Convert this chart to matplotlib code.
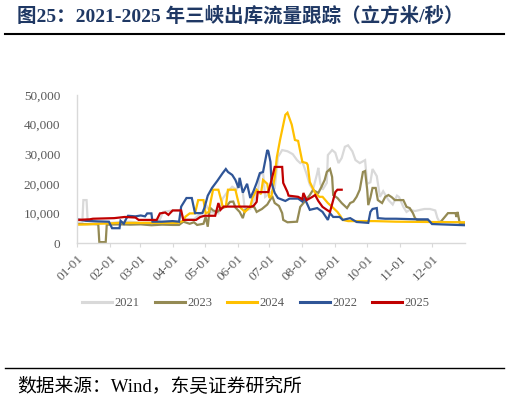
import matplotlib
matplotlib.use("Agg")
import matplotlib.pyplot as plt
from matplotlib.lines import Line2D

# ---- data (day of year, flow m3/s) ----
month_ticks = [0, 31, 59, 90, 120, 151, 181, 212, 243, 273, 304, 334]
month_labels = ["01-01", "02-01", "03-01", "04-01", "05-01", "06-01",
                "07-01", "08-01", "09-01", "10-01", "11-01", "12-01"]

days_2021 = [0, 5, 6, 9, 10, 20, 30, 40, 50, 60, 70, 78, 81, 90, 97, 100, 110, 118, 122, 125, 133, 137,
             142, 146, 150, 153, 156, 158, 163, 165, 167, 170, 172, 175, 177, 182, 186, 189, 193, 198,
             203, 207, 210, 212, 216, 219, 222, 226, 227, 229, 231, 235, 236, 240, 243, 246, 249, 252,
             255, 259, 262, 266, 271, 273, 276, 278, 282, 285, 288, 293, 297, 301, 303, 307, 310, 313,
             318, 323, 327, 332, 337, 339, 341, 350, 365]
vals_2021 = [7000, 7000, 14500, 14500, 7500, 7000, 6800, 7000, 7200, 6800, 7000, 8000, 10500, 11000, 11000,
             8000, 8000, 10500, 12500, 10500, 10000, 15000, 17500, 19000, 18000, 22000, 17000, 11000, 11500,
             13500, 15000, 17000, 23000, 24000, 15600, 17000, 18500, 29000, 31400, 31000, 30000, 28000,
             27000, 27500, 23300, 19700, 18000, 23600, 25400, 20000, 18000, 20300, 29700, 31400, 30500,
             27000, 28700, 32500, 33000, 31000, 28000, 27000, 28000, 20000, 20500, 25000, 22600, 15600,
             17500, 14500, 13000, 16000, 15500, 12200, 10500, 11200, 10800, 11200, 11500, 11500, 11000,
             8500, 7200, 7000, 7000]

days_2023 = [0, 15, 20, 21, 27, 28, 40, 50, 60, 70, 80, 90, 96, 100, 106, 110, 113, 119, 121, 123, 125,
             128, 132, 136, 140, 144, 147, 149, 153, 156, 158, 163, 167, 169, 174, 179, 182, 184, 186,
             190, 193, 194, 198, 207, 210, 213, 219, 222, 227, 230, 233, 235, 238, 240, 241, 245, 249,
             254, 257, 260, 263, 266, 269, 271, 273, 274, 276, 278, 281, 283, 287, 290, 293, 296, 299,
             302, 307, 310, 313, 316, 318, 320, 330, 334, 342, 346, 349, 356, 357, 358, 360, 365]
vals_2023 = [6400, 6400, 6300, 300, 300, 6200, 6300, 6200, 6300, 6000, 6200, 6100, 6100, 7200, 6500,
             7000, 6100, 6500, 8800, 5500, 12000, 11000, 10500, 11800, 12200, 13900, 14000, 12000,
             10500, 8400, 11000, 12500, 12000, 10500, 11500, 13000, 14800, 15500, 13500, 12500, 10100,
             7800, 7000, 7200, 12200, 13500, 16200, 17900, 16900, 19000, 21300, 24000, 25000, 22300,
             16200, 15200, 13500, 11800, 13500, 14000, 15600, 18000, 24000, 24300, 18000, 12800, 15300,
             18600, 18600, 14500, 13500, 15600, 16200, 15500, 14500, 14500, 14500, 12200, 11800, 10100,
             8400, 7800, 7600, 6800, 7100, 8800, 10100, 10100, 8800, 10500, 6800, 6600]

days_2024 = [0, 10, 20, 30, 40, 60, 80, 95, 100, 102, 106, 111, 114, 119, 121, 124, 126, 128, 133, 136,
             137, 140, 142, 149, 151, 153, 158, 163, 165, 169, 173, 175, 179, 181, 183, 186, 188, 191,
             196, 198, 202, 205, 208, 212, 216, 217, 219, 224, 228, 231, 236, 240, 245, 248, 250, 255,
             280, 300, 330, 365]
vals_2024 = [6200, 6300, 6500, 6600, 6800, 6800, 6800, 6800, 7500, 8900, 10000, 10000, 14500, 14500,
             10000, 10500, 14500, 18000, 18000, 14000, 12200, 12200, 18000, 18000, 15000, 12200, 10500,
             12200, 15200, 18000, 16500, 21300, 20000, 15200, 16000, 22300, 29000, 34800, 43300, 44000,
             40000, 34800, 34500, 27400, 27000, 26400, 20600, 16900, 15600, 15600, 13500, 12200, 10500,
             9000, 7800, 7400, 7400, 7200, 7100, 7000]

days_2022 = [0, 8, 20, 30, 33, 40, 41, 44, 46, 48, 55, 60, 64, 66, 70, 71, 80, 90, 96, 98, 103, 108,
             111, 118, 120, 123, 127, 132, 137, 140, 142, 146, 149, 152, 153, 156, 160, 163, 166, 169,
             172, 175, 179, 180, 182, 183, 186, 189, 196, 200, 208, 212, 214, 219, 226, 231, 236, 238,
             241, 247, 250, 257, 263, 274, 276, 278, 282, 283, 290, 300, 320, 330, 334, 365]
vals_2022 = [8000, 7500, 7300, 7200, 5000, 5000, 7500, 6500, 8000, 9200, 9000, 9300, 9000, 10000, 10000,
             7200, 7200, 7400, 7200, 12300, 15200, 15200, 10100, 10100, 12000, 16000, 18600, 21000,
             23600, 25000, 24000, 23000, 21300, 18600, 22000, 17000, 20000, 15200, 17500, 20300, 23600,
             24000, 31400, 31000, 27400, 20300, 16900, 15200, 14200, 15000, 15000, 14000, 15200, 11200,
             11800, 10500, 7800, 10100, 8800, 8800, 7800, 8400, 7100, 6800, 10500, 11500, 11800, 8400,
             8200, 8200, 8000, 8000, 6400, 6000]

days_2025 = [0, 12, 15, 35, 45, 55, 58, 75, 78, 83, 86, 90, 98, 100, 112, 116, 120, 130, 133, 135, 138,
             160, 163, 166, 169, 170, 180, 183, 186, 193, 194, 198, 199, 208, 212, 213, 216, 221, 224,
             227, 231, 235, 238, 241, 243, 245, 249]
vals_2025 = [7800, 8000, 8200, 8400, 8800, 8600, 7800, 7800, 10000, 10300, 9500, 11000, 11000, 7800, 7800,
             8800, 9200, 9200, 13500, 11200, 12300, 12300, 12200, 12500, 13900, 17200, 17200, 21300,
             25700, 25700, 20300, 17200, 16000, 15600, 14800, 16900, 14500, 15500, 16200, 14200, 12200,
             11200, 10500, 14500, 17200, 18000, 18000]

series = [
    ("2021", days_2021, vals_2021, "#D9D9D9"),
    ("2023", days_2023, vals_2023, "#948A54"),
    ("2024", days_2024, vals_2024, "#FFC000"),
    ("2022", days_2022, vals_2022, "#2F5597"),
    ("2025", days_2025, vals_2025, "#C00000"),
]

W, H = 510, 401
fig = plt.figure(figsize=(W / 100, H / 100), dpi=100)
fig.patch.set_facecolor("white")

serif_cjk = ["Liberation Serif", "Noto Sans CJK SC"]

# title
fig.text(17 / W, 1 - 16 / H, "图25：2021-2025 年三峡出库流量跟踪（立方米/秒）",
         family=serif_cjk, fontsize=14, fontweight="bold", color="#1F3864",
         ha="left", va="center")
fig.add_artist(Line2D([5 / W, 504 / W], [1 - 33.5 / H, 1 - 33.5 / H], color="black", lw=1.5))
fig.add_artist(Line2D([5 / W, 504 / W], [1 - 368 / H, 1 - 368 / H], color="black", lw=1.0))
fig.text(17 / W, 1 - 387 / H, "数据来源：Wind，东吴证券研究所",
         family=serif_cjk, fontsize=13.5, color="black", ha="left", va="center")

ax = fig.add_axes([77 / W, 1 - 243 / H, (465 - 77) / W, (243 - 95) / H])
for name, d, v, c in series:
    ax.plot(d, v, color=c, lw=1.6, label=name, solid_joinstyle="miter")

ax.set_xlim(0, 365)
ax.set_ylim(0, 50000)
ax.set_yticks(range(0, 50001, 10000))
ax.set_yticklabels([f"{t:,}" for t in range(0, 50001, 10000)])
ax.set_xticks(month_ticks)
ax.set_xticklabels(month_labels, rotation=45, ha="right", va="top", rotation_mode="anchor")
for lab in ax.get_xticklabels() + ax.get_yticklabels():
    lab.set_family("Liberation Serif")
    lab.set_fontsize(9.5)
    lab.set_color("#595959")
ax.tick_params(axis="y", length=0, pad=12)
ax.tick_params(axis="x", length=3, color="#D9D9D9", pad=4)
for s in ["top", "right"]:
    ax.spines[s].set_visible(False)
for s in ["left", "bottom"]:
    ax.spines[s].set_color("#D9D9D9")
    ax.spines[s].set_linewidth(1.0)

handles, labels = ax.get_legend_handles_labels()
leg = fig.legend(handles, labels, loc="center", bbox_to_anchor=(256 / W, 1 - 303 / H), ncol=5,
                 frameon=False, handlelength=2.4, columnspacing=1.2, handletextpad=0.2,
                 borderpad=0, prop={"family": "Liberation Serif", "size": 9})
for t in leg.get_texts():
    t.set_color("#595959")
for l in leg.get_lines():
    l.set_linewidth(2.2)

fig.savefig("out.png", dpi=100)
